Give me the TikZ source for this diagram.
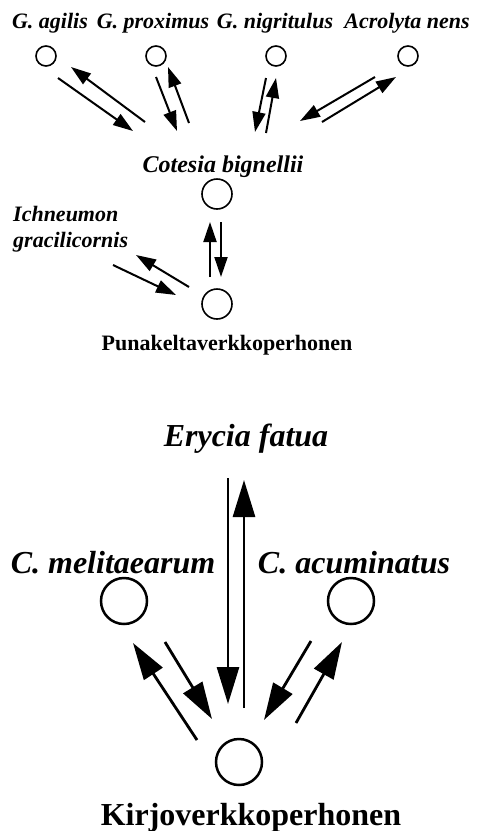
\documentclass[tikz,border=0pt]{standalone}
\usepackage{fontspec}
\setmainfont{Liberation Serif}
\usetikzlibrary{arrows.meta}
\tikzset{
  laji/.style={font=\fontsize{#1}{#1}\selectfont\bfseries\itshape, inner sep=0pt, anchor=base},
  laji/.default=22,
  isanta/.style={font=\fontsize{#1}{#1}\selectfont\bfseries, inner sep=0pt, anchor=base},
  isanta/.default=22,
  pallo/.style={circle, draw, line width=1.6pt, minimum size=#1, inner sep=0pt},
  arr/.style={-{Triangle[length=20pt, width=13pt]}, line width=2pt},
  arrB/.style={-{Triangle[length=37pt, width=22pt]}, line width=2.8pt},
}

\begin{document}
\begin{tikzpicture}[x=1pt, y=-1pt]
  \useasboundingbox (0,0) rectangle (477,831);

  % ylempi verkko
  \node[laji] (gagT) at (50,28) {G. agilis};
  \node[laji] (gprT) at (153,28) {G. proximus};
  \node[laji] (gniT) at (275,28) {G. nigritulus};
  \node[laji] (acrT) at (407,28) {Acrolyta nens};
  \node[pallo=20pt] (gag) at (46,56) {};
  \node[pallo=20pt] (gpr) at (156,56) {};
  \node[pallo=20pt] (gni) at (276,56) {};
  \node[pallo=20pt] (acr) at (408,56) {};
  \node[laji=24] (cotT) at (223,172) {Cotesia bignellii};
  \node[pallo=30pt] (cot) at (217,194) {};
  \node[laji, anchor=north west, align=left, font=\fontsize{22}{26}\selectfont\bfseries\itshape] (ichT) at (13,206)
    {Ichneumon\\gracilicornis};
  \node[pallo=30pt] (pun) at (217,304) {};
  \node[isanta] (punT) at (227,350) {Punakeltaverkkoperhonen};

  \foreach \n/\p in {a1/{58,78}, a2/{133,131}, b1/{145,122}, b2/{71,67},
                     c1/{156,77}, c2/{177,131}, d1/{189,123}, d2/{168,67},
                     e1/{266,78}, e2/{255,132}, f1/{266,133}, f2/{276,78},
                     g1/{375,77}, g2/{300,121}, h1/{322,122}, h2/{396,77},
                     i1/{210,277}, i2/{210,222}, j1/{221,222}, j2/{221,277},
                     k1/{113,265}, k2/{176,295}, l1/{189,287}, l2/{136,255}}
    \coordinate (\n) at (\p);
  \foreach \s in {a,b,c,d,e,f,g,h,i,j,k,l}
    \draw[arr] (\s1) -- (\s2);

  % alempi verkko
  \node[laji=32] (eryT) at (246,446) {Erycia fatua};
  \node[laji=32] (cmeT) at (113,573) {C. melitaearum};
  \node[laji=32] (cacT) at (354,573) {C. acuminatus};
  \node[pallo=46pt, line width=2.5pt] (cme) at (124,601) {};
  \node[pallo=46pt, line width=2.5pt] (cac) at (351,601) {};
  \node[pallo=46pt, line width=2.5pt] (kir) at (239,762) {};
  \node[isanta=32] (kirT) at (251,825) {Kirjoverkkoperhonen};

  \foreach \n/\p in {m1/{197,740}, m2/{133,643}, n1/{165,642}, n2/{212,719},
                     o1/{228,478}, o2/{228,704}, p1/{244,708}, p2/{244,480},
                     q1/{311,641}, q2/{264,720}, r1/{296,723}, r2/{342,642}}
    \coordinate (\n) at (\p);
  \foreach \s in {m,n,o,p,q,r}
    \draw[arrB] (\s1) -- (\s2);
\end{tikzpicture}
\end{document}
